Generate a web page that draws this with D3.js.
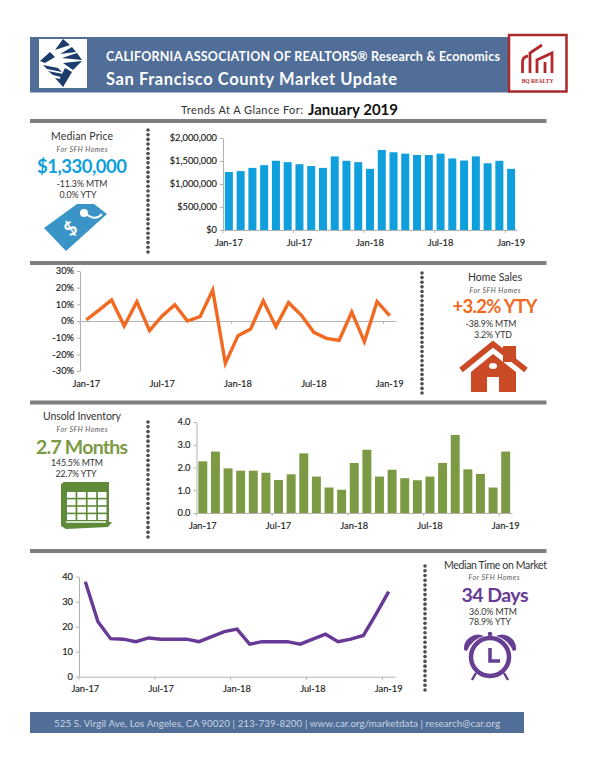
<!DOCTYPE html>
<html><head><meta charset="utf-8">
<script src="https://cdn.jsdelivr.net/npm/d3@7/dist/d3.min.js"></script>
<style>html,body{margin:0;padding:0;background:#fff}svg{display:block}
text{font-family:Lato,"Open Sans",sans-serif;fill:#333}
.axis text{font-size:9.3px;font-weight:400;fill:#222;font-family:Lato,sans-serif;stroke:#222;stroke-width:.15px}
.axis path,.axis line{stroke:#b3b3b3;stroke-width:1}
</style></head><body>
<svg id="c" width="600" height="776"></svg>
<script>
const months = ["Jan-17","Feb-17","Mar-17","Apr-17","May-17","Jun-17","Jul-17","Aug-17","Sep-17","Oct-17","Nov-17","Dec-17","Jan-18","Feb-18","Mar-18","Apr-18","May-18","Jun-18","Jul-18","Aug-18","Sep-18","Oct-18","Nov-18","Dec-18","Jan-19"];
const tickMonths = ["Jan-17","Jul-17","Jan-18","Jul-18","Jan-19"];
const medianPrice = [1260000,1280000,1350000,1410000,1505000,1475000,1430000,1390000,1350000,1600000,1505000,1475000,1330000,1740000,1690000,1660000,1630000,1630000,1660000,1555000,1510000,1600000,1450000,1505000,1330000];
const salesYoY = [0.7,6.5,12.6,-3,11.6,-5.8,3,9.8,0,2.6,18.6,-25.4,-8.8,-4.8,12.2,-3.4,11,3.6,-6.8,-10.4,-11.6,5.4,-12.4,11.6,3.2];
const inventory = [2.27,2.7,1.96,1.86,1.86,1.77,1.45,1.7,2.62,1.6,1.12,1.02,2.2,2.78,1.6,1.9,1.53,1.44,1.6,2.2,3.43,1.92,1.72,1.12,2.7];
const timeOnMarket = [38,22,15.2,15,14,15.5,15,15,15,14,16,18,19,13,14,14,14,13,15,17,14,15,16.5,25,34];
const priceTicks = [0,500000,1000000,1500000,2000000];
const salesTicks = [-30,-20,-10,0,10,20,30];
const inventoryTicks = [0,1,2,3,4];
const timeTicks = [0,10,20,30,40];

const svg = d3.select("#c");
const BLUE="#0e9fdc",ORANGE="#f26a21",GREEN="#7c9a43",PURPLE="#663a96",SLATE="#506e98";

function label(x,y,s,o={}){
  const t=svg.append("text").attr("x",x).attr("y",y).text(s)
    .attr("text-anchor",o.anchor||"middle").attr("dominant-baseline","central")
    .style("font-size",(o.size||10)+"px").style("font-weight",o.weight||400)
    .style("font-style",o.italic?"italic":"normal").style("fill",o.fill||"#333");
  if(o.font)t.style("font-family",o.font);
  if(o.width)t.attr("textLength",o.width).attr("lengthAdjust","spacing");
  return t;
}
function axes(x,y,yFmt,ticks,xLabelY,axisY){
  const bw=x.bandwidth();
  const g=svg.append("g").attr("class","axis").attr("transform",`translate(0,${axisY})`)
    .call(d3.axisBottom(x).tickValues(tickMonths).tickSize(3).tickSizeOuter(0));
  g.selectAll("line").attr("x1",-x.step()/2).attr("x2",-x.step()/2);
  g.selectAll("text").attr("y",xLabelY-axisY).attr("dy",0).attr("dominant-baseline","central");
  svg.append("g").attr("class","axis").attr("transform",`translate(${x.range()[0]},0)`)
    .call(d3.axisLeft(y).tickValues(ticks).tickFormat(yFmt).tickSize(3).tickSizeOuter(0));
}
function bars(x,y,data,color){
  svg.append("g").selectAll("rect").data(data).join("rect")
    .attr("x",(d,i)=>x(months[i])).attr("width",x.bandwidth())
    .attr("y",d=>y(d)).attr("height",d=>y(0)-y(d)).attr("fill",color);
}
function line(x,y,data,color,w){
  const l=d3.line().x((d,i)=>x(months[i])+x.bandwidth()/2).y(d=>y(d));
  svg.append("path").attr("d",l(data)).attr("fill","none").attr("stroke",color)
    .attr("stroke-width",w).attr("stroke-linejoin","miter");
}
function dots(xp,y0,y1){
  const n=Math.round((y1-y0)/4.7);
  svg.append("g").selectAll("circle").data(d3.range(n+1)).join("circle")
    .attr("cx",xp).attr("cy",i=>y0+i*(y1-y0)/n).attr("r",1.8).attr("fill","#4d4d4d");
}
function rule(y){svg.append("rect").attr("x",30).attr("y",y-2).attr("width",516.5).attr("height",4).attr("fill","#7f7f7f");}

/* header */
svg.append("rect").attr("x",30).attr("y",37).attr("width",480).attr("height",55.5).attr("fill",SLATE);
svg.append("rect").attr("x",39).attr("y",39).attr("width",48).attr("height",49).attr("fill","#fff");
const lg=svg.append("g").attr("fill","#1c3d6b");
["M63,39L70,45L55,50Z","M72,47L76,52L60,54Z","M77,53L82,60L62,58Z","M82,61L73,70L63,63Z","M72,72L63,87L60,78L65,68Z",
 "M40,61L50,52L55,57L45,63Z","M43,65L58,68L62,72L47,69Z","M48,71L63,74L65,78L53,75Z","M55,78L65,80L63,87Z"]
 .forEach(p=>lg.append("path").attr("d",p));
label(106,56,"CALIFORNIA ASSOCIATION OF REALTORS® Research & Economics",{anchor:"start",size:12.5,weight:700,fill:"#fff",width:394});
label(106,79,"San Francisco County Market Update",{anchor:"start",size:16.5,weight:700,fill:"#fff",width:291});
svg.append("rect").attr("x",509).attr("y",35).attr("width",57.5).attr("height",56.5).attr("fill","#fff").attr("stroke","#a92a2a").attr("stroke-width",2.5);
const red="#b3282d";
svg.append("path").attr("fill","none").attr("stroke",red).attr("stroke-width",2.8)
 .attr("d","M522.5,73V62Q522.5,57 528,56M530,73V53L542,45M537,73V60L552,53V73M545,73V62");
label(537.5,81,"BQ REALTY",{size:5.5,weight:700,fill:red,font:"Liberation Serif"});

label(242,109,"Trends At A Glance For:",{size:11,width:122});
label(308,108.5,"January 2019",{anchor:"start",size:15,weight:700,fill:"#111",width:90});

[121,263,402.5,551].forEach(rule);
dots(148,130,252);dots(422,273,393);dots(148,422,537);dots(425,566,690);

/* panel 1 */
label(82,136,"Median Price",{size:10.5,width:62});
label(82,149,"For SFH Homes",{size:7,italic:true,fill:"#555",width:51});
label(82,166,"$1,330,000",{size:18.5,weight:700,fill:BLUE,width:90});
label(82,183,"-11.3% MTM",{size:8.8,width:51});
label(78,194,"0.0% YTY",{size:8.8,width:37});
const tagC="#3b94c8";
svg.append("path").attr("fill",tagC).attr("d","M44,228L77,204L94,204L107,214L66,251Z");
svg.append("circle").attr("cx",84).attr("cy",213).attr("r",4).attr("fill","#fff");
svg.append("path").attr("fill","none").attr("stroke","#fff").attr("stroke-width",2).attr("d","M85,213Q95,222 102,214");
label(70,228,"$",{size:19,weight:700,fill:"#fff"}).attr("transform","rotate(-38 70 228)");

const x1=d3.scaleBand().domain(months).range([223,517]).paddingInner(0.32).paddingOuter(0.16);
const y1=d3.scaleLinear().domain([0,2000000]).range([230,138]);
bars(x1,y1,medianPrice,BLUE);
axes(x1,y1,d3.format("$,"),priceTicks,242,230);

/* panel 2 */
label(495,277,"Home Sales",{size:10.5,width:54});
label(495,290,"For SFH Homes",{size:7,italic:true,fill:"#555",width:51});
label(495,306,"+3.2% YTY",{size:18.5,weight:700,fill:ORANGE,width:85});
label(491,323,"-38.9% MTM",{size:8.8,width:51});
label(493,334,"3.2% YTD",{size:8.8,width:38});
const hc="#c94a25";
svg.append("rect").attr("x",503).attr("y",346).attr("width",13).attr("height",16).attr("fill",hc);
svg.append("path").attr("fill","none").attr("stroke",hc).attr("stroke-width",5.5).attr("d","M461,370L493,344L526,370");
svg.append("path").attr("fill",hc).attr("d","M493,354L516,372V392H499V377H487V392H471V372Z");
svg.append("ellipse").attr("cx",493).attr("cy",366).attr("rx",4).attr("ry",3).attr("fill","#fff");

const x2=d3.scaleBand().domain(months).range([80,396]);
const y2=d3.scaleLinear().domain([-30,30]).range([371,271]);
axes(x2,y2,d=>d+"%",salesTicks,383,y2(0));
line(x2,y2,salesYoY,ORANGE,3.4);

/* panel 3 */
label(82,416,"Unsold Inventory",{size:10.5,width:78});
label(82,429,"For SFH Homes",{size:7,italic:true,fill:"#555",width:51});
label(82,446,"2.7 Months",{size:19.5,weight:700,fill:GREEN,width:92});
label(77,462,"145.5% MTM",{size:8.8,width:52});
label(76,473,"22.7% YTY",{size:8.8,width:41});
const cc="#5f8a3a";
svg.append("path").attr("fill",cc).attr("d","M61,484L64,482H109V522H112L108,527L66,529L61,526Z");
svg.append("g").selectAll("rect").data(d3.range(16)).join("rect")
 .attr("x",i=>67+(i%4)*10.3).attr("y",i=>492+Math.floor(i/4)*7.4)
 .attr("width",8.6).attr("height",5.8).attr("fill","#fff");
svg.append("path").attr("fill","none").attr("stroke","#fff").attr("stroke-width",1.5).attr("d","M66,522H106");

const x3=d3.scaleBand().domain(months).range([196.5,512]).paddingInner(0.29).paddingOuter(0.145);
const y3=d3.scaleLinear().domain([0,4]).range([513,422]);
bars(x3,y3,inventory,GREEN);
axes(x3,y3,d3.format(".1f"),inventoryTicks,525,513);

/* panel 4 */
label(495.5,565,"Median Time on Market",{size:10.5,width:103});
label(494,577,"For SFH Homes",{size:7,italic:true,fill:"#555",width:51});
label(495,594,"34 Days",{size:19.5,weight:700,fill:PURPLE,width:67});
label(493,611,"36.0% MTM",{size:8.8,width:48});
label(490,621.5,"78.9% YTY",{size:8.8,width:42});
const pc="#663f93";
svg.append("circle").attr("cx",490).attr("cy",657).attr("r",19).attr("fill","none").attr("stroke",pc).attr("stroke-width",4.5);
svg.append("path").attr("fill",pc).attr("d","M464,650A14,14 0 0 1 484,636Q472,639 467,651Z");
svg.append("path").attr("fill",pc).attr("d","M516,650A14,14 0 0 0 496,636Q508,639 513,651Z");
svg.append("path").attr("fill","none").attr("stroke",pc).attr("stroke-width",2.5).attr("d","M490,638V635M476,673L472,680M504,673L508,680");
svg.append("circle").attr("cx",490).attr("cy",634).attr("r",2.3).attr("fill",pc);
svg.append("path").attr("fill","none").attr("stroke",pc).attr("stroke-width",3.5).attr("d","M490,648V661H500");

const x4=d3.scaleBand().domain(months).range([79,395]);
const y4=d3.scaleLinear().domain([0,40]).range([676.7,576.7]);
axes(x4,y4,d3.format("d"),timeTicks,689,676.7);
line(x4,y4,timeOnMarket,PURPLE,3.4);

/* footer */
svg.append("rect").attr("x",30).attr("y",712).attr("width",494).attr("height",21).attr("fill",SLATE);
label(277,722.5,"525 S. Virgil Ave, Los Angeles, CA 90020  |  213-739-8200  |  www.car.org/marketdata |  research@car.org",{size:9.8,fill:"#c9d3e2",width:446});
</script></body></html>
